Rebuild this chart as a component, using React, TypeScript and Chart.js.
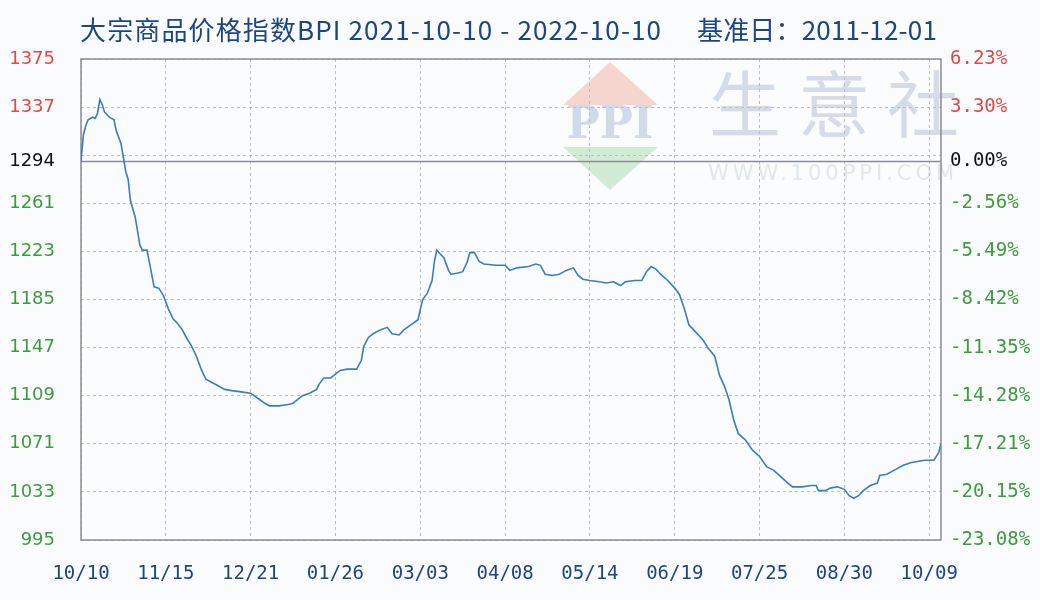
import React, { useEffect, useRef } from 'react';
import { Chart, registerables } from 'chart.js';

Chart.register(...registerables);

// ---- data (day offset from 2021-10-10, BPI value) ----
const days = [
  0, 1, 2, 3, 5, 6, 7, 8, 9, 10, 12, 14, 15, 17, 18, 19, 20, 21, 23, 25,
  26, 28, 30, 31, 33, 35, 37, 39, 41, 43, 45, 47, 49, 51, 53, 55, 58, 61, 64, 68,
  72, 75, 78, 80, 84, 88, 90, 92, 94, 97, 100, 101, 103, 106, 108, 110, 113, 117, 119, 120,
  122, 124, 127, 130, 132, 135, 137, 140, 143, 145, 147, 149, 150, 151, 153, 154, 156, 157, 160, 162,
  164, 165, 167, 169, 171, 176, 180, 182, 185, 190, 193, 195, 197, 200, 203, 206, 209, 211, 213, 216,
  220, 223, 226, 229, 231, 235, 238, 240, 242, 244, 246, 249, 252, 254, 256, 258, 261, 264, 266, 269,
  271, 273, 275, 277, 279, 282, 285, 288, 291, 294, 297, 300, 302, 306, 310, 312, 313, 316, 318, 321,
  324, 326, 328, 330, 332, 335, 338, 339, 342, 346, 349, 352, 355, 358, 362, 364, 365,
];
const bpi = [
  1294, 1315, 1322, 1327, 1329, 1328, 1332, 1343, 1339, 1333, 1329, 1327, 1318, 1308, 1297, 1286, 1280, 1263, 1250, 1228,
  1224, 1224, 1205, 1195, 1194, 1188, 1178, 1170, 1166, 1161, 1154, 1148, 1140, 1130, 1122, 1120, 1117, 1114, 1113, 1112,
  1111, 1107, 1103, 1101, 1101, 1102, 1103, 1106, 1109, 1111, 1114, 1118, 1123, 1123, 1126, 1129, 1130, 1130, 1137, 1148,
  1155, 1158, 1161, 1163, 1158, 1157, 1161, 1165, 1169, 1185, 1190, 1200, 1215, 1224, 1220, 1218, 1208, 1205, 1206, 1207,
  1215, 1222, 1222, 1215, 1213, 1212, 1212, 1208, 1210, 1211, 1213, 1212, 1205, 1204, 1205, 1208, 1210, 1204, 1201, 1200,
  1199, 1198, 1199, 1196, 1199, 1200, 1200, 1207, 1211, 1209, 1205, 1200, 1194, 1189, 1178, 1165, 1159, 1153, 1147, 1140,
  1125, 1117, 1106, 1090, 1079, 1074, 1066, 1061, 1053, 1050, 1045, 1040, 1037, 1037, 1038, 1038, 1034, 1034, 1036, 1037,
  1035, 1030, 1028, 1030, 1034, 1038, 1040, 1046, 1047, 1051, 1054, 1056, 1057, 1058, 1058, 1064, 1071,
];

const xTickDays = [0, 36, 72, 108, 144, 180, 216, 252, 288, 324, 360];
const xTickLabels = ['10/10', '11/15', '12/21', '01/26', '03/03', '04/08', '05/14', '06/19', '07/25', '08/30', '10/09'];

const yTicks = [995, 1033, 1071, 1109, 1147, 1185, 1223, 1261, 1294, 1299, 1337, 1375];
const leftLabels = ['995', '1033', '1071', '1109', '1147', '1185', '1223', '1261', '1294', '', '1337', '1375'];
const rightLabels = ['-23.08%', '-20.15%', '-17.21%', '-14.28%', '-11.35%', '-8.42%', '-5.49%', '-2.56%', '0.00%', '', '3.30%', '6.23%'];

const BASE = 1294;
const Y_MIN = 995;
const Y_MAX = 1375;
const X_MAX = 365;

const TITLE_MAIN = '大宗商品价格指数BPI 2021-10-10 - 2022-10-10';
const TITLE_BASE = '基准日：2011-12-01';

const RED = '#dc4a4a';
const GREEN = '#3f9a3f';
const BLACK = '#111111';
const NAVY = '#1b4585';

const tickColor = (v: number) => (v > BASE ? RED : v === BASE ? BLACK : GREEN);

function fitText(ctx: CanvasRenderingContext2D, text: string, x: number, y: number, target: number) {
  (ctx as any).letterSpacing = '0px';
  const w = ctx.measureText(text).width;
  const ls = Math.max(0, (target - w) / text.length);
  (ctx as any).letterSpacing = ls.toFixed(2) + 'px';
  ctx.fillText(text, x, y, target + 2);
  (ctx as any).letterSpacing = '0px';
}

const decor = {
  id: 'decor',
  beforeDraw(chart: any) {
    const { ctx, width, height } = chart;
    ctx.save();
    ctx.fillStyle = '#fafcfd';
    ctx.fillRect(0, 0, width, height);

    // watermark logo
    ctx.fillStyle = 'rgba(243, 200, 188, 0.75)';
    ctx.beginPath();
    ctx.moveTo(610, 62);
    ctx.lineTo(658, 105);
    ctx.lineTo(563, 105);
    ctx.closePath();
    ctx.fill();
    ctx.fillStyle = 'rgba(200, 230, 202, 0.8)';
    ctx.beginPath();
    ctx.moveTo(563, 147);
    ctx.lineTo(658, 147);
    ctx.lineTo(610, 190);
    ctx.closePath();
    ctx.fill();
    ctx.fillStyle = '#d0dae9';
    ctx.font = 'bold 44px "DejaVu Serif"';
    ctx.textAlign = 'center';
    ctx.textBaseline = 'middle';
    ctx.fillText('PPI', 610, 127);

    ctx.fillStyle = '#d5dce8';
    ctx.font = '72px "Noto Sans CJK SC"';
    ['生', '意', '社'].forEach((c, i) => ctx.fillText(c, 745 + i * 89, 104));

    ctx.fillStyle = '#e3e6eb';
    ctx.font = '21px "DejaVu Sans"';
    ctx.textAlign = 'left';
    (ctx as any).letterSpacing = '4px';
    ctx.fillText('WWW.100PPI.COM', 708, 175);
    (ctx as any).letterSpacing = '0px';

    // title
    ctx.fillStyle = NAVY;
    ctx.font = '26px "Noto Sans CJK SC"';
    ctx.textAlign = 'left';
    ctx.textBaseline = 'middle';
    fitText(ctx, TITLE_MAIN, 80, 30, 582);
    fitText(ctx, TITLE_BASE, 697, 30, 240);
    ctx.restore();
  },
  beforeDatasetsDraw(chart: any) {
    const { ctx, chartArea, scales } = chart;
    const { left, right, top, bottom } = chartArea;
    const yb = scales.y.getPixelForValue(BASE);
    ctx.save();
    ctx.strokeStyle = '#8a8a96';
    ctx.lineWidth = 1.5;
    ctx.beginPath();
    ctx.moveTo(left, yb);
    ctx.lineTo(right, yb);
    ctx.stroke();
    ctx.strokeRect(left, top, right - left, bottom - top);
    ctx.restore();
  },
};

export default function App() {
  const ref = useRef<HTMLCanvasElement | null>(null);

  useEffect(() => {
    if (!ref.current) return;
    const chart = new Chart(ref.current, {
      type: 'line',
      data: {
        datasets: [
          {
            data: days.map((d, i) => ({ x: d, y: bpi[i] })),
            borderColor: '#3a7cc2',
            borderWidth: 1.6,
            pointRadius: 0,
            tension: 0,
            fill: false,
          },
        ],
      },
      options: {
        responsive: false,
        animation: false,
        devicePixelRatio: 1,
        layout: { padding: { top: 59, left: 0, right: 0, bottom: 0 } },
        plugins: { legend: { display: false }, tooltip: { enabled: false }, title: { display: false } },
        scales: {
          x: {
            type: 'linear',
            position: 'bottom',
            min: 0,
            max: X_MAX,
            afterBuildTicks: (s: any) => {
              s.ticks = xTickDays.map((v) => ({ value: v }));
            },
            afterFit: (s: any) => {
              s.height = 60;
            },
            grid: { color: '#bdbdbd', lineWidth: 1, drawTicks: false },
            border: { display: false, dash: [3, 3] },
            ticks: {
              autoSkip: false,
              maxRotation: 0,
              padding: 23,
              color: NAVY,
              font: { family: '"DejaVu Sans Mono"', size: 19 },
              callback: (_v: any, i: number) => xTickLabels[i],
            },
          },
          y: {
            type: 'linear',
            position: 'left',
            min: Y_MIN,
            max: Y_MAX,
            afterBuildTicks: (s: any) => {
              s.ticks = yTicks.map((v) => ({ value: v }));
            },
            afterFit: (s: any) => {
              s.width = 81;
            },
            grid: {
              color: (c: any) => (c.tick && c.tick.value === BASE ? 'rgba(0,0,0,0)' : '#bdbdbd'),
              lineWidth: 1,
              drawTicks: false,
            },
            border: { display: false, dash: [3, 3] },
            ticks: {
              autoSkip: false,
              padding: 26,
              color: (c: any) => tickColor(c.tick.value),
              font: { family: '"DejaVu Sans"', size: 18 },
              callback: (v: any) => leftLabels[yTicks.indexOf(Number(v))] ?? '',
            },
          },
          y2: {
            type: 'linear',
            position: 'right',
            min: Y_MIN,
            max: Y_MAX,
            afterBuildTicks: (s: any) => {
              s.ticks = yTicks.map((v) => ({ value: v }));
            },
            afterFit: (s: any) => {
              s.width = 99;
            },
            grid: { display: false, drawTicks: false },
            border: { display: false },
            ticks: {
              autoSkip: false,
              padding: 9,
              color: (c: any) => tickColor(c.tick.value),
              font: { family: '"DejaVu Sans Mono"', size: 19 },
              callback: (v: any) => rightLabels[yTicks.indexOf(Number(v))] ?? '',
            },
          },
        },
      },
      plugins: [decor],
    } as any);
    return () => chart.destroy();
  }, []);

  return (
    <div style={{ position: 'absolute', left: 0, top: 0, width: 1040, height: 600 }}>
      <canvas ref={ref} width={1040} height={600} style={{ display: 'block' }} />
    </div>
  );
}
